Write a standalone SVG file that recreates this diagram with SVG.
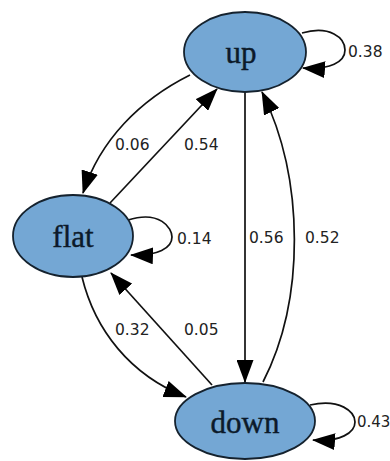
<svg xmlns="http://www.w3.org/2000/svg" width="390" height="461" viewBox="0 0 390 461">
<style>
.node ellipse{fill:#74a7d4;stroke:#15222e;stroke-width:1.8}
.node text{font-family:"Liberation Serif","Times New Roman",serif;font-size:31px;fill:#0c1a2a;text-anchor:middle;stroke:#0c1a2a;stroke-width:0.4}
.edge{fill:none;stroke:#111;stroke-width:1.7;marker-end:url(#ah)}
.lbl{font-family:"DejaVu Sans","Liberation Sans",sans-serif;font-size:15.5px;fill:#222}
</style>
<defs>
<marker id="ah" markerUnits="userSpaceOnUse" markerWidth="23" markerHeight="17" viewBox="0 0 23 17" refX="22" refY="8.5" orient="auto">
<path d="M0,0 L23,8.5 L0,17 z" fill="#000"/>
</marker>
</defs>
<rect width="390" height="461" fill="#fff"/>
<g id="connectors">
<path class="edge" d="M190,75 C140,100 100,140 83,193"/>
<path class="edge" d="M110,203 L217,89"/>
<path class="edge" d="M245,92 L245,382"/>
<path class="edge" d="M263,382 C305,300 305,180 262,92"/>
<path class="edge" d="M82,277 C95,330 130,375 186,397"/>
<path class="edge" d="M212,385 L111,273"/>
<path class="edge" d="M302,33 C330,25 345,38 345,50 C345,62 330,70 303,68"/>
<path class="edge" d="M128,220 C160,210 172,228 172,237 C172,248 158,256 131,255"/>
<path class="edge" d="M310,405 C340,398 355,412 355,422 C355,433 340,442 313,440"/>
<text class="lbl" x="348" y="57">0.38</text>
<text class="lbl" x="177" y="244">0.14</text>
<text class="lbl" x="357" y="427" style="font-size:15px">0.43</text>
<text class="lbl" x="115" y="150">0.06</text>
<text class="lbl" x="184" y="150">0.54</text>
<text class="lbl" x="249" y="243">0.56</text>
<text class="lbl" x="305" y="243">0.52</text>
<text class="lbl" x="115" y="335">0.32</text>
<text class="lbl" x="184" y="335">0.05</text>
</g>
<g id="up" class="node"><ellipse cx="245" cy="52" rx="61" ry="40"/><text x="241" y="63">up</text></g>
<g id="flat" class="node"><ellipse cx="73" cy="236" rx="60" ry="41"/><text x="73" y="247">flat</text></g>
<g id="down" class="node"><ellipse cx="245" cy="421" rx="70" ry="38"/><text x="245" y="433">down</text></g>
</svg>
